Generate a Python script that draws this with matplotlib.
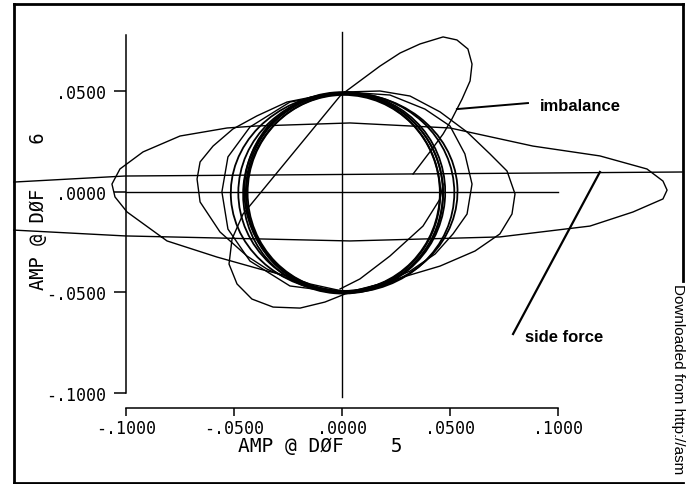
import numpy as np
import matplotlib
matplotlib.use("Agg")
import matplotlib.pyplot as plt
from matplotlib.patches import Ellipse
from matplotlib.lines import Line2D

# orbit plot, AMP @ DOF 5 vs AMP @ DOF 6 (scanned figure)

xticks = [-0.1, -0.05, 0.0, 0.05, 0.1]
yticks = [-0.1, -0.05, 0.0, 0.05]
xlabel = "AMP @ DØF    5"
ylabel = "AMP @ DØF    6"

# limit cycle loops: centre x, centre y, width, height, angle
cycle_cx = [0.0008, 0.0005, 0.0012, 0.0008, 0.0010, 0.0020, 0.0010]
cycle_cy = [-0.0007, -0.0005, -0.0010, -0.0003, -0.0008, -0.0006, -0.0004]
cycle_w = [0.0890, 0.0900, 0.0910, 0.0920, 0.0935, 0.1000, 0.1050]
cycle_h = [0.0975, 0.0985, 0.0990, 0.0995, 0.1000, 0.0995, 0.0990]
cycle_ang = [0, 3, -3, 5, -5, 0, 4]

# side force trajectory (comes in from the left)
side_x = [-0.1519, -0.1005, 0.0037, 0.0731, 0.1148, 0.1347, 0.1486, 0.1505,
          0.1486, 0.1412, 0.1194, 0.0884, 0.0500, 0.0037, -0.0394, -0.0532,
          -0.0750, -0.0921, -0.1028, -0.1065, -0.1051, -0.0995, -0.0810,
          -0.0579, -0.0380, -0.0255, -0.0148, 0.0]
side_y = [-0.0192, -0.0221, -0.0246, -0.0226, -0.0172, -0.0102, -0.0037, 0.0007,
          0.0052, 0.0112, 0.0177, 0.0226, 0.0316, 0.0341, 0.0326, 0.0316,
          0.0276, 0.0197, 0.0112, 0.0037, -0.0027, -0.0102, -0.0246,
          -0.0326, -0.0386, -0.0420, -0.0460, -0.0495]

# long straight transient lines
long_x = [-0.1519, -0.1005, 0.1574]
long_y = [0.0047, 0.0077, 0.0097]
zero_x = [-0.1, 0.1]
zero_y = [-0.0002, -0.0002]
vert_x = [0.0, 0.0]
vert_y = [-0.1022, 0.0794]

# imbalance trajectory (lobe, chord, lower lobe)
imb_x = [0.0329, 0.0407, 0.0468, 0.0509, 0.0556, 0.0593, 0.0602, 0.0583,
         0.0532, 0.0468, 0.0361, 0.0269, 0.0176, 0.0083, 0.0014, -0.0009,
         -0.0458, -0.0509, -0.0523, -0.0486, -0.0417, -0.0319, -0.0194,
         -0.0079, 0.0014, 0.0130]
imb_y = [0.0087, 0.0197, 0.0286, 0.0361, 0.0460, 0.0550, 0.0634, 0.0709,
         0.0754, 0.0769, 0.0734, 0.0689, 0.0624, 0.0550, 0.0495, 0.0475,
         -0.0112, -0.0236, -0.0361, -0.0460, -0.0535, -0.0575, -0.0580,
         -0.0550, -0.0510, -0.0480]

# wide loop to the left
lw_x = [-0.0009, -0.0116, -0.0255, -0.0394, -0.0505, -0.0597, -0.0657,
        -0.0671, -0.0657, -0.0565, -0.0440, -0.0347, -0.0194, 0.0]
lw_y = [0.0485, 0.0475, 0.0445, 0.0376, 0.0311, 0.0226, 0.0147,
        0.0062, -0.0052, -0.0201, -0.0321, -0.0386, -0.0460, -0.0500]

# wide loop to the right
rw_x = [0.0014, 0.0176, 0.0315, 0.0454, 0.0579, 0.0685, 0.0764, 0.0801,
        0.0787, 0.0731, 0.0616, 0.0454, 0.0269, 0.0083, 0.0]
rw_y = [0.0495, 0.0500, 0.0475, 0.0396, 0.0296, 0.0187, 0.0102, -0.0012,
        -0.0112, -0.0211, -0.0296, -0.0371, -0.0430, -0.0490, -0.0505]

# medium loop
md_x = [0.0014, 0.0222, 0.0384, 0.0500, 0.0569, 0.0602, 0.0579, 0.0514,
        0.0431, 0.0315, 0.0176, 0.0014, -0.0241, -0.0426, -0.0528, -0.0556,
        -0.0528, -0.0426, -0.0241, 0.0014]
md_y = [0.0495, 0.0480, 0.0410, 0.0326, 0.0187, 0.0037, -0.0112, -0.0211,
        -0.0311, -0.0396, -0.0460, -0.0505, -0.0470, -0.0346, -0.0187, -0.0002,
        0.0172, 0.0321, 0.0445, 0.0495]

# inner arc, lower right
in_x = [0.0468, 0.0454, 0.0375, 0.0222, 0.0083, -0.0009]
in_y = [0.0037, -0.0037, -0.0172, -0.0321, -0.0435, -0.0485]

# annotations
imb_text_xy = (0.0917, 0.0430)
imb_lead_x = [0.0861, 0.0532]
imb_lead_y = [0.0440, 0.0410]
side_text_xy = (0.0847, -0.0719)
side_lead_x = [0.0792, 0.1194]
side_lead_y = [-0.0709, 0.0097]


def fmt(v, pos=None):
    s = "%.4f" % v
    if s.startswith("-0"):
        return "-" + s[2:]
    if s.startswith("0"):
        return s[1:]
    return s


plt.rcParams['font.family'] = ['DejaVu Sans Mono']
fig = plt.figure(figsize=(6.88, 4.85), dpi=100)
ax = fig.add_axes([0, 0, 1, 1])
ax.set_xlim(-0.15833, 0.16019)
ax.set_ylim(-0.14552, 0.09577)

for s in ['top', 'right']:
    ax.spines[s].set_visible(False)
ax.spines['left'].set_position(('data', -0.1))
ax.spines['left'].set_bounds(-0.1, 0.078)
ax.spines['bottom'].set_position(('data', -0.1077))
ax.spines['bottom'].set_bounds(-0.1, 0.1)
for s in ['left', 'bottom']:
    ax.spines[s].set_linewidth(1.1)

ax.set_xticks(xticks)
ax.set_yticks(yticks)
ax.xaxis.set_major_formatter(plt.FuncFormatter(fmt))
ax.yaxis.set_major_formatter(plt.FuncFormatter(fmt))
ax.tick_params(axis='x', direction='out', length=5.8, width=1.1, pad=2, labelsize=12)
ax.tick_params(axis='y', direction='out', length=8.5, width=1.1, pad=6, labelsize=12)

lw = 1.0
col = 'black'
for cx, cy, w, h, a in zip(cycle_cx, cycle_cy, cycle_w, cycle_h, cycle_ang):
    ax.add_patch(Ellipse((cx, cy), w, h, angle=a, fill=False, ec=col, lw=1.3))

for xs, ys in [(side_x, side_y), (long_x, long_y), (zero_x, zero_y),
               (vert_x, vert_y), (imb_x, imb_y), (lw_x, lw_y), (rw_x, rw_y),
               (md_x, md_y), (in_x, in_y)]:
    ax.plot(xs, ys, color=col, lw=lw, solid_joinstyle='round')

ax.plot(imb_lead_x, imb_lead_y, color=col, lw=1.4)
ax.plot(side_lead_x, side_lead_y, color=col, lw=1.6)
ax.text(imb_text_xy[0], imb_text_xy[1], "imbalance", family='Liberation Sans',
        weight='bold', fontsize=12, va='center', ha='left')
ax.text(side_text_xy[0], side_text_xy[1], "side force", family='Liberation Sans',
        weight='bold', fontsize=12, va='center', ha='left')

ax.text(-0.0100, -0.1262, xlabel, fontsize=14, ha='center', va='center')
ax.text(-0.1403, -0.0092, ylabel, fontsize=13.5, ha='center', va='center', rotation=90)

# scan frame
for xs, ys in [([0.0203, 0.0203], [0.0, 0.9897]), ([0.0203, 0.9927], [0.9897, 0.9897]),
               ([0.9927, 0.9927], [0.9897, 0.4186]), ([0.0203, 0.9927], [0.003, 0.003])]:
    fig.add_artist(Line2D(xs, ys, color='black', lw=2.0))
fig.text(0.9855, 0.4145, "Downloaded from http://asm", family='Liberation Sans',
         fontsize=11, rotation=-90, ha='center', va='top')

fig.savefig("out.png", dpi=100)
